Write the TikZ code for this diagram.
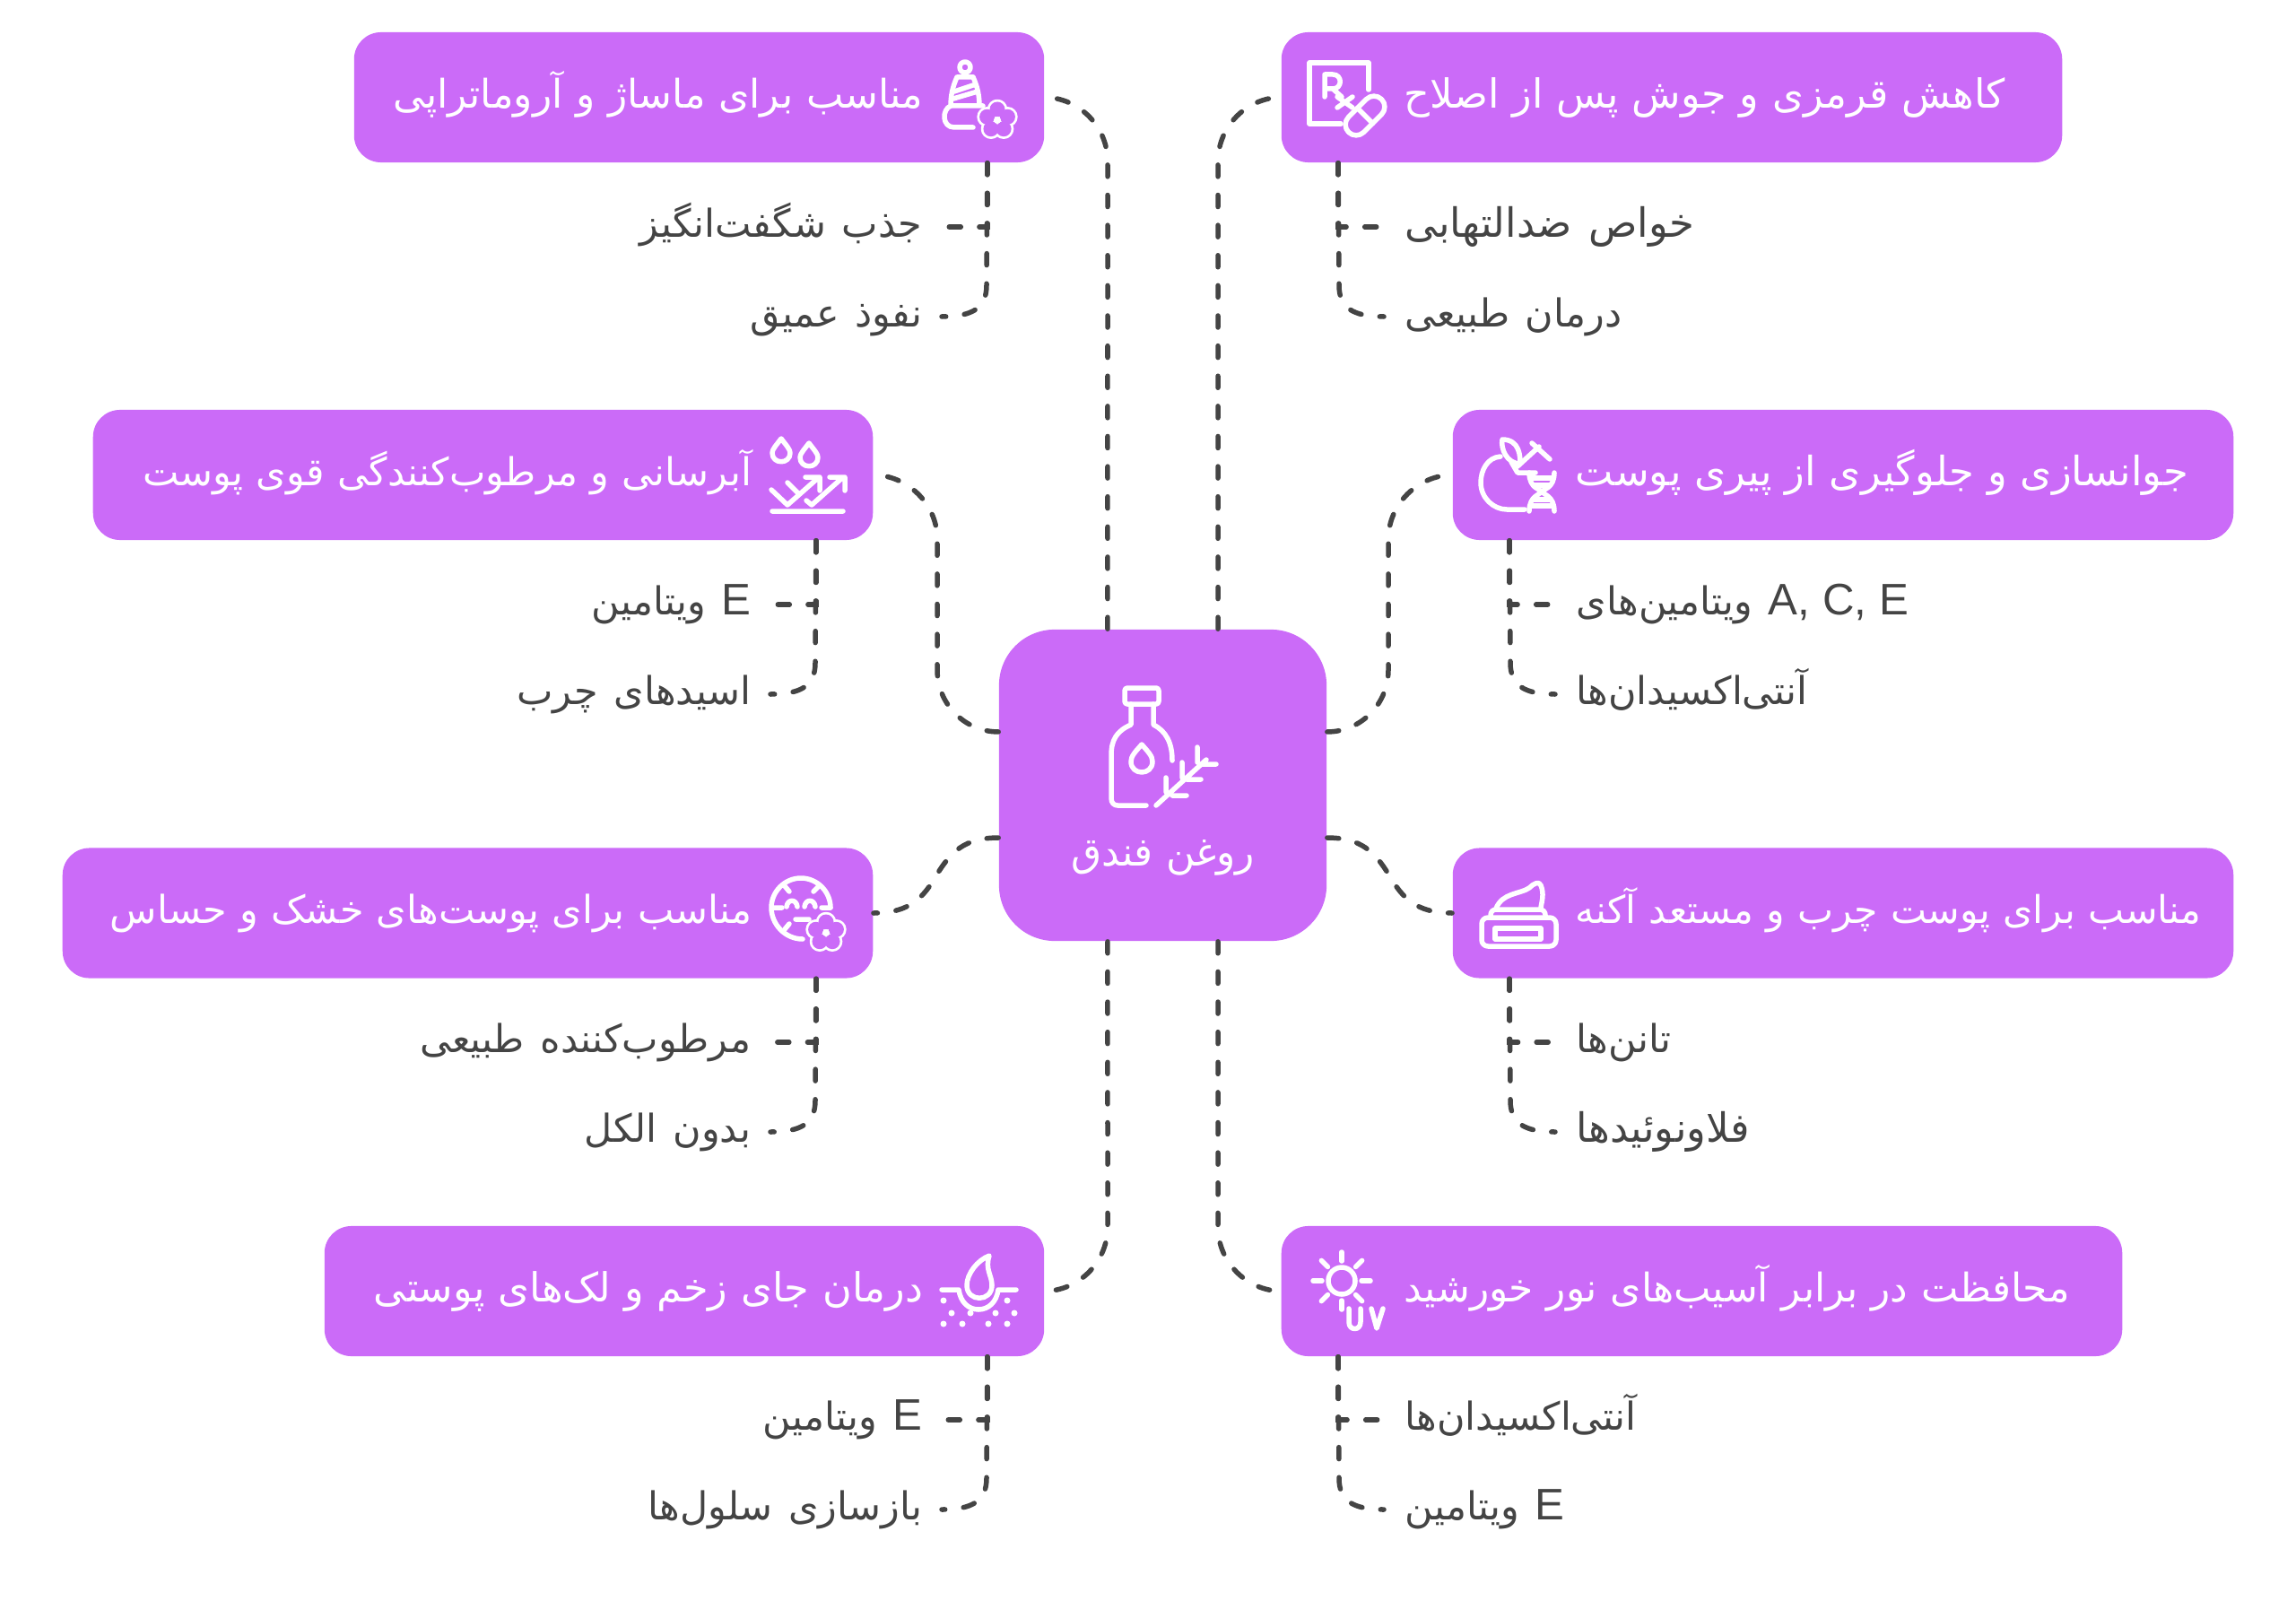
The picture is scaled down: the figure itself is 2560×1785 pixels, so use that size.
\documentclass[tikz,border=0pt]{standalone}
\usepackage{fontspec}
\usepackage{xcolor}
\setmainfont{Liberation Sans}
\newfontfamily\arabicfont[Script=Arabic,WordSpace=1.3]{DejaVu Sans}
\TeXXeTstate=1
\definecolor{boxpurple}{HTML}{CB6BF8}
\definecolor{linegray}{HTML}{444444}
\newcommand{\fa}[1]{{\arabicfont\rule[-6.4pt]{0pt}{19.6pt}\beginR #1\endR}}
\newcommand{\la}[1]{\beginL{\rmfamily\fontsize{14}{16}\selectfont #1}\endL}
\tikzset{
  itembox/.style={fill=boxpurple,rounded corners=0.3cm,minimum height=1.45cm,inner sep=0pt,
    text=white,font=\fontsize{12.5}{15}\selectfont},
  leftbox/.style={itembox,align=right},
  rightbox/.style={itembox,align=left},
  hubbox/.style={fill=boxpurple,rounded corners=0.62cm,minimum width=3.65cm,minimum height=3.47cm,
    text width=3.65cm,inner sep=0pt,align=center,text=white,font=\fontsize{12.5}{15}\selectfont},
  subtext/.style={inner sep=0pt,text=linegray,font=\fontsize{12.2}{15}\selectfont},
  link/.style={draw=linegray,line width=0.055cm,line cap=round,dash pattern=on 0.13cm off 0.206cm},
  iconline/.style={draw=white,line width=0.055cm,line cap=round,line join=round,fill=none},
  flower/.pic={
    \foreach \a in {270,342,54,126,198} \draw[iconline] (\a:12) circle (8.5);
    \foreach \a in {270,342,54,126,198} \fill[boxpurple] (\a:12) circle (8.5);
    \fill[white] (0,0) circle (4);
  }
}
\begin{document}
\begin{tikzpicture}[x=0.01cm,y=-0.01cm]
  \useasboundingbox (0,0) rectangle (2560,1785);
  % centre
  \node[hubbox] (hub) at (1296.5,875.5) {\rule{0pt}{57.6pt}\fa{روغن فندق}};
  % boxes on the left
  \node[leftbox,text width=7.69cm] (tl) at (779.5,108.5) {\fa{مناسب برای ماساژ و آروماتراپی}\kern1.35cm};
  \node[leftbox,text width=8.69cm,font=\fontsize{12.2}{15}\selectfont] (ml) at (538.5,529.5) {\fa{آبرسانی و مرطوب^^^^200cکنندگی قوی پوست}\kern1.35cm};
  \node[leftbox,text width=9.03cm,font=\fontsize{12.2}{15}\selectfont] (ll) at (521.5,1018) {\fa{مناسب برای پوست^^^^200cهای خشک و حساس}\kern1.35cm};
  \node[leftbox,text width=8.02cm,font=\fontsize{12.7}{15}\selectfont] (bl) at (763,1439.5) {\fa{درمان جای زخم و لک^^^^200cهای پوستی}\kern1.35cm};
  % boxes on the right
  \node[rightbox,text width=8.70cm,font=\fontsize{12.7}{15}\selectfont] (tr) at (1864,108.5) {\kern1.37cm\fa{کاهش قرمزی و جوش پس از اصلاح}};
  \node[rightbox,text width=8.70cm,font=\fontsize{12.8}{15}\selectfont] (mr) at (2055,529.5) {\kern1.37cm\fa{جوانسازی و جلوگیری از پیری پوست}};
  \node[rightbox,text width=8.70cm,font=\fontsize{12.1}{15}\selectfont] (lr) at (2055,1018) {\kern1.37cm\fa{مناسب برای پوست چرب و مستعد آکنه}};
  \node[rightbox,text width=9.37cm] (br) at (1897.5,1439.5) {\kern1.37cm\fa{محافظت در برابر آسیب^^^^200cهای نور خورشید}};
  % sub items
  \node[subtext,anchor=east] (tla) at (1029,253) {\fa{جذب شگفت^^^^200cانگیز}};
  \node[subtext,anchor=east] (tlb) at (1029,353) {\fa{نفوذ عمیق}};
  \node[subtext,anchor=east] (mla) at (838,674) {\fa{\la{E} ویتامین}};
  \node[subtext,anchor=east] (mlb) at (838,774) {\fa{اسیدهای چرب}};
  \node[subtext,anchor=east] (lla) at (838,1162) {\fa{مرطوب^^^^200cکننده طبیعی}};
  \node[subtext,anchor=east] (llb) at (838,1262) {\fa{بدون الکل}};
  \node[subtext,anchor=east] (bla) at (1029,1583) {\fa{\la{E} ویتامین}};
  \node[subtext,anchor=east] (blb) at (1029,1683) {\fa{بازسازی سلول^^^^200cها}};
  \node[subtext,anchor=west,font=\fontsize{12.8}{15}\selectfont] (tra) at (1566,253) {\fa{خواص ضدالتهابی}};
  \node[subtext,anchor=west] (trb) at (1566,353) {\fa{درمان طبیعی}};
  \node[subtext,anchor=west] (mra) at (1757,674) {\fa{\la{A, C, E} ویتامین^^^^200cهای}};
  \node[subtext,anchor=west] (mrb) at (1757,774) {\fa{آنتی^^^^200cاکسیدان^^^^200cها}};
  \node[subtext,anchor=west] (lra) at (1757,1162) {\fa{تانن^^^^200cها}};
  \node[subtext,anchor=west,font=\fontsize{12.8}{15}\selectfont] (lrb) at (1757,1262) {\fa{فلاونوئیدها}};
  \node[subtext,anchor=west] (bra) at (1566,1583) {\fa{آنتی^^^^200cاکسیدان^^^^200cها}};
  \node[subtext,anchor=west] (brb) at (1566,1683) {\fa{\la{E} ویتامین}};
  % connectors to the centre
  \draw[link] ([xshift=-0.615cm]hub.north) -- (1235,180) .. controls (1235,141) and (1203,109) .. (tl.east);
  \draw[link] ([xshift=0.615cm]hub.north) -- (1358,180) .. controls (1358,141) and (1390,109) .. (tr.west);
  \draw[link] ([xshift=-0.615cm]hub.south) -- (1235,1368) .. controls (1235,1407) and (1203,1439) .. (bl.east);
  \draw[link] ([xshift=0.615cm]hub.south) -- (1358,1368) .. controls (1358,1407) and (1390,1439) .. (br.west);
  \draw[link] ([yshift=0.595cm]hub.west) .. controls (1076,816) and (1045,785) .. (1045,747) -- (1045,601) .. controls (1045,562) and (1012,530) .. (ml.east);
  \draw[link] ([yshift=0.595cm]hub.east) .. controls (1517,816) and (1548,785) .. (1548,747) -- (1548,601) .. controls (1548,562) and (1581,530) .. (mr.west);
  \draw[link] ([yshift=-0.585cm]hub.west) .. controls (1075,934) and (1060,950) .. (1044,976) .. controls (1030,1000) and (1015,1018) .. (ll.east);
  \draw[link] ([yshift=-0.585cm]hub.east) .. controls (1518,934) and (1533,950) .. (1549,976) .. controls (1563,1000) and (1578,1018) .. (lr.west);
  % connectors to the sub items
  \draw[link] ([xshift=-0.64cm]tl.south east) |- ([xshift=0.21cm]tla.east);
  \draw[link] ([xshift=-0.64cm]tl.south east) -- (1100,318) .. controls (1100,343) and (1085,353) .. ([xshift=0.21cm]tlb.east);
  \draw[link] ([xshift=-0.64cm]ml.south east) |- ([xshift=0.21cm]mla.east);
  \draw[link] ([xshift=-0.64cm]ml.south east) -- (909,739) .. controls (909,764) and (894,774) .. ([xshift=0.21cm]mlb.east);
  \draw[link] ([xshift=-0.64cm]ll.south east) |- ([xshift=0.21cm]lla.east);
  \draw[link] ([xshift=-0.64cm]ll.south east) -- (909,1227) .. controls (909,1252) and (894,1262) .. ([xshift=0.21cm]llb.east);
  \draw[link] ([xshift=-0.64cm]bl.south east) |- ([xshift=0.21cm]bla.east);
  \draw[link] ([xshift=-0.64cm]bl.south east) -- (1100,1648) .. controls (1100,1673) and (1085,1683) .. ([xshift=0.21cm]blb.east);
  \draw[link] ([xshift=0.64cm]tr.south west) |- ([xshift=-0.23cm]tra.west);
  \draw[link] ([xshift=0.64cm]tr.south west) -- (1493,318) .. controls (1493,343) and (1508,353) .. ([xshift=-0.23cm]trb.west);
  \draw[link] ([xshift=0.64cm]mr.south west) |- ([xshift=-0.23cm]mra.west);
  \draw[link] ([xshift=0.64cm]mr.south west) -- (1684,739) .. controls (1684,764) and (1699,774) .. ([xshift=-0.23cm]mrb.west);
  \draw[link] ([xshift=0.64cm]lr.south west) |- ([xshift=-0.23cm]lra.west);
  \draw[link] ([xshift=0.64cm]lr.south west) -- (1684,1227) .. controls (1684,1252) and (1699,1262) .. ([xshift=-0.23cm]lrb.west);
  \draw[link] ([xshift=0.64cm]br.south west) |- ([xshift=-0.23cm]bra.west);
  \draw[link] ([xshift=0.64cm]br.south west) -- (1493,1648) .. controls (1493,1673) and (1508,1683) .. ([xshift=-0.23cm]brb.west);
  % icon: bottle and sprig
  \draw[iconline,rounded corners=0.03cm] (1254,767) rectangle (1292,785);
  \draw[iconline] (1261,785) -- (1261,808) .. controls (1245,815) and (1239,825) .. (1239,842) -- (1239,890) .. controls (1239,895) and (1242,898) .. (1246,898) -- (1278,898);
  \draw[iconline] (1286,785) -- (1286,808) .. controls (1300,815) and (1307,828) .. (1307,848);
  \draw[iconline] (1273,830) .. controls (1266,838) and (1261,843) .. (1261,849) .. controls (1261,865) and (1285,865) .. (1285,849) .. controls (1285,843) and (1280,838) .. (1273,830) -- cycle;
  \draw[iconline] (1289,898) -- (1345,847) (1300,867) -- (1300,883) (1318,850) -- (1318,867) (1335,833) -- (1335,850) (1307,887) -- (1323,887) (1323,869) -- (1339,869) (1340,852) -- (1356,852);
  % icon: perfume and flower
  \draw[iconline] (1076,75) circle (6);
  \draw[iconline] (1067,86) -- (1085,86) (1067,86) .. controls (1062,97) and (1060,107) .. (1060,118) .. controls (1050,122) and (1050,142) .. (1064,142) -- (1085,142);
  \draw[iconline] (1085,86) .. controls (1090,97) and (1092,107) .. (1092,118) (1060,118) -- (1096,118) (1064,102) -- (1088,94) (1063,110) -- (1090,102);
  \pic at (1112,134) {flower};
  % icon: drops and arrows
  \draw[iconline] (871,489) .. controls (865,497) and (861,501) .. (861,505) .. controls (861,518) and (881,518) .. (881,505) .. controls (881,501) and (877,497) .. (871,489) -- cycle;
  \draw[iconline] (902,494) .. controls (896,502) and (892,506) .. (892,510) .. controls (892,523) and (912,523) .. (912,510) .. controls (912,506) and (908,502) .. (902,494) -- cycle;
  \draw[iconline] (860,546) -- (878,563) -- (912,533) (898,532) -- (914,532) -- (914,547) (878,538) -- (890,550);
  \draw[iconline] (899,558) -- (905,563) -- (940,532) (925,532) -- (942,532) -- (942,547) (861,570) -- (940,570);
  % icon: face and flower
  \draw[iconline] (926,1012) .. controls (926,994) and (911,979) .. (893,979) .. controls (875,979) and (860,994) .. (860,1012) .. controls (860,1030) and (875,1047) .. (895,1047);
  \draw[iconline] (875,988) -- (880,994) (913,988) -- (907,994) (861,1012) -- (872,1012) (916,1012) -- (926,1012) (880,1030) -- (875,1036) (887,1025) -- (902,1025);
  \draw[iconline] (877,1011) .. controls (878,1002) and (888,1002) .. (889,1011) (897,1011) .. controls (898,1002) and (908,1002) .. (909,1011);
  \pic at (921,1040) {flower};
  % icon: rx and pill
  \draw[iconline] (1526,100) -- (1526,70) -- (1460,70) -- (1460,138) -- (1495,138);
  \draw[iconline] (1477,108) -- (1477,83) -- (1486,83) .. controls (1497,83) and (1497,99) .. (1486,99) -- (1477,99) (1486,99) -- (1496,108) (1491,108) -- (1508,120) (1508,108) -- (1491,120);
  \begin{scope}[shift={(1522,129)},rotate=45]
    \draw[iconline,rounded corners=0.12cm] (-26,-12) rectangle (26,12);
    \draw[iconline] (0,-12) -- (0,12);
  \end{scope}
  % icon: apple and dna
  \draw[iconline] (1673,509) .. controls (1658,510) and (1651,525) .. (1651,538) .. controls (1651,555) and (1665,568) .. (1680,568) -- (1700,568);
  \draw[iconline] (1675,490) .. controls (1695,490) and (1695,510) .. (1695,517) .. controls (1680,517) and (1673,500) .. (1675,490) -- cycle;
  \draw[iconline] (1692,520) -- (1716,498) (1708,494) -- (1728,512) (1685,515) -- (1692,527) -- (1712,527);
  \draw[iconline] (1705,527) .. controls (1705,545) and (1718,545) .. (1718,548) .. controls (1718,552) and (1705,552) .. (1705,570);
  \draw[iconline] (1733,527) .. controls (1733,545) and (1720,545) .. (1720,548) .. controls (1720,552) and (1733,552) .. (1733,570);
  \draw[iconline] (1706,533) -- (1732,533) (1710,541) -- (1728,541) (1710,557) -- (1728,557) (1706,564) -- (1732,564);
  % icon: cream jar
  \draw[iconline,rounded corners=0.07cm] (1652,1023) rectangle (1735,1055);
  \draw[iconline] (1667,1035) rectangle (1718,1047);
  \draw[iconline,rounded corners=0.06cm] (1662,1023) -- (1662,1014) -- (1723,1014) -- (1723,1023);
  \draw[iconline] (1668,1013) .. controls (1675,995) and (1695,997) .. (1705,990) .. controls (1710,985) and (1716,982) .. (1718,987) .. controls (1722,997) and (1719,1005) .. (1718,1012);
  % icon: drop on skin
  \draw[iconline] (1103,1400) .. controls (1090,1405) and (1078,1420) .. (1078,1433) .. controls (1078,1452) and (1106,1452) .. (1106,1433) .. controls (1106,1422) and (1098,1415) .. (1103,1400) -- cycle;
  \draw[iconline] (1050,1438) -- (1069,1438) .. controls (1071,1452) and (1080,1460) .. (1091,1460) .. controls (1102,1460) and (1111,1452) .. (1113,1438) -- (1133,1438);
  \foreach \px/\py in {1052/1450,1123/1450,1061/1464,1082/1464,1110/1464,1131/1464,1052/1476,1073/1476,1102/1476,1123/1476}
    \fill[white] (\px,\py) circle (3.5);
  % icon: sun
  \draw[iconline] (1496,1428) circle (15);
  \foreach \a in {0,45,...,315} \draw[iconline] (1496,1428) ++(\a:22) -- ++(\a:10);
  \draw[iconline] (1504,1459) -- (1504,1474) .. controls (1504,1484) and (1517,1484) .. (1517,1474) -- (1517,1459);
  \draw[iconline] (1529,1459) -- (1535,1481) -- (1542,1459);
\end{tikzpicture}
\end{document}
